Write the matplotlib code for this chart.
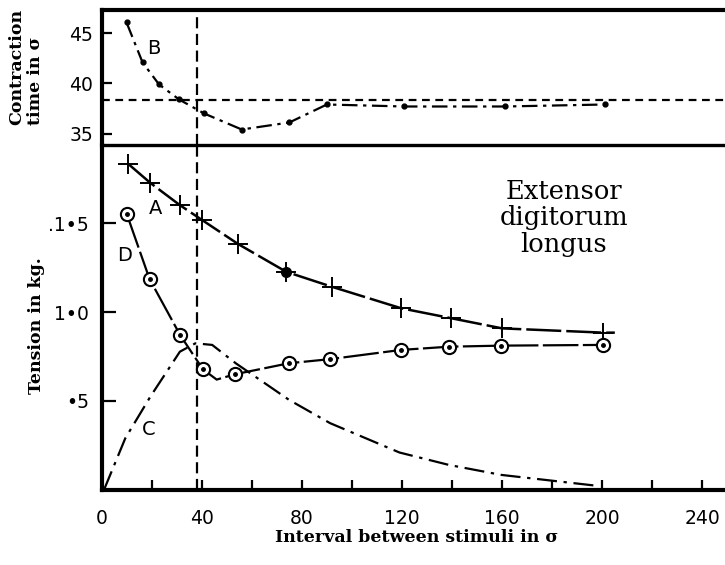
import matplotlib
matplotlib.use("Agg")
import matplotlib.pyplot as plt

# curve B: contraction time (sigma) vs interval
b_x = [10, 16.4, 23, 31, 41, 56, 75, 90, 121, 161, 201]
b_y = [46.1, 42.1, 39.9, 38.4, 37.0, 35.4, 36.1, 37.9, 37.7, 37.7, 37.9]

# curve A: tension (crosses)
a_x = [10.5, 19.5, 31.3, 40.2, 54.6, 73.8, 92, 119.7, 139.7, 160, 200.4, 205]
a_y = [1.835, 1.726, 1.601, 1.517, 1.382, 1.226, 1.142, 1.021, 0.965, 0.908, 0.884, 0.884]

# curve D: tension (circles); one extra trace point at the dip (x=46)
d_x = [10.1, 19.2, 31.5, 40.5, 46, 53.3, 74.9, 91.3, 119.7, 138.8, 159.7, 200.2]
d_y = [1.551, 1.185, 0.868, 0.678, 0.62, 0.650, 0.712, 0.735, 0.787, 0.805, 0.811, 0.815]
d_marks = [0, 1, 2, 3, 5, 6, 7, 8, 9, 10, 11]

# curve C: dash-dot trace
c_x = [1, 9.5, 19.5, 31.3, 37.5, 44.2, 53.6, 74.9, 91.3, 119, 138.8, 159.7, 198.4]
c_y = [0.0, 0.290, 0.524, 0.777, 0.824, 0.815, 0.712, 0.506, 0.375, 0.210, 0.140, 0.084, 0.022]

stim_line = 38      # vertical dashed marker
ref_time = 38.3     # horizontal dashed reference

x_major = [0, 40, 80, 120, 160, 200, 240]
x_minor = [20, 60, 100, 140, 180, 220]
tens_ticks = [0.5, 1.0, 1.5]
tens_labels = ["•5", "1•0", ".1•5"]
time_ticks = [35, 40, 45]

sans = "DejaVu Sans"
serif = "DejaVu Serif"

fig = plt.figure(figsize=(7.25, 5.65), dpi=100)
ax_t = fig.add_axes([0.14, 0.743, 0.86, 0.239])
ax = fig.add_axes([0.14, 0.133, 0.86, 0.61], sharex=ax_t)
ax.patch.set_visible(False)

for a in (ax, ax_t):
    a.spines["right"].set_visible(False)
    a.spines["left"].set_linewidth(3)
a.set_xlim(0, 249)
ax.spines["top"].set_visible(False)
ax.spines["bottom"].set_linewidth(3)
ax_t.spines["top"].set_linewidth(3)
ax_t.spines["bottom"].set_linewidth(2.4)

# top panel
ax_t.set_ylim(33.83, 47.33)
ax_t.plot(b_x, b_y, color="black", lw=1.6, ls=(0, (7, 2.5, 1.5, 2.5)),
          marker="o", ms=3.5)
ax_t.axhline(ref_time, color="black", lw=1.6, ls=(0, (3.5, 2.5)))
ax_t.axvline(stim_line, color="black", lw=1.6, ls=(0, (5, 2.5)))
ax_t.set_yticks(time_ticks)
ax_t.tick_params(axis="y", direction="in", length=7, width=1.6, pad=6,
                 labelsize=13.5)
ax_t.tick_params(axis="x", which="both", bottom=False, labelbottom=False)
for t in ax_t.get_yticklabels():
    t.set_fontfamily(sans)
ax_t.text(20.8, 43.5, "B", fontsize=14, fontfamily=sans, ha="center", va="center")

# bottom panel
ax.set_ylim(0, 1.938)
ax.axvline(stim_line, color="black", lw=1.6, ls=(0, (5, 2.5)))
ax.plot(c_x, c_y, color="black", lw=1.6, ls=(0, (9, 3, 1.5, 3)))
ax.plot(a_x, a_y, color="black", lw=1.8, ls=(0, (14, 2)),
        marker="+", ms=15, mew=1.4, markevery=list(range(11)))
ax.plot(a_x[5], a_y[5], "o", color="black", ms=7)
ax.plot(d_x, d_y, color="black", lw=1.6, ls=(0, (16, 2)))
ax.plot([d_x[i] for i in d_marks], [d_y[i] for i in d_marks], "o",
        mfc="white", mec="black", ms=9.5, mew=1.5)
ax.plot([d_x[i] for i in d_marks], [d_y[i] for i in d_marks], "o",
        color="black", ms=2.5)

ax.set_xticks(x_major)
ax.set_xticks(x_minor, minor=True)
ax.set_yticks(tens_ticks)
ax.set_yticklabels(tens_labels)
ax.tick_params(axis="x", which="both", direction="in", length=7, width=1.6,
               pad=14, labelsize=13.5)
ax.tick_params(axis="y", direction="in", length=10, width=1.6, pad=9,
               labelsize=13.5)
for t in ax.get_xticklabels() + ax.get_yticklabels():
    t.set_fontfamily(sans)

ax.text(21.6, 1.584, "A", fontsize=14, fontfamily=sans, ha="center", va="center")
ax.text(9.3, 1.32, "D", fontsize=14, fontfamily=sans, ha="center", va="center")
ax.text(18.8, 0.341, "C", fontsize=14, fontfamily=sans, ha="center", va="center")
ax.text(184.7, 1.53, "Extensor\ndigitorum\nlongus", fontsize=18.5, fontfamily=serif,
        ha="center", va="center", linespacing=1.07)

fig.text(0.575, 0.048, "Interval between stimuli in σ", fontsize=12.5,
         fontfamily=serif, fontweight="bold", ha="center", va="center")
fig.text(0.05, 0.423, "Tension in kg.", fontsize=12.5, fontfamily=serif,
         fontweight="bold", rotation=90, ha="center", va="center")
fig.text(0.036, 0.882, "Contraction\ntime in σ", fontsize=12.5, fontfamily=serif,
         fontweight="bold", rotation=90, ha="center", va="center",
         multialignment="left", linespacing=1.2)

fig.savefig("out.png", dpi=100)
